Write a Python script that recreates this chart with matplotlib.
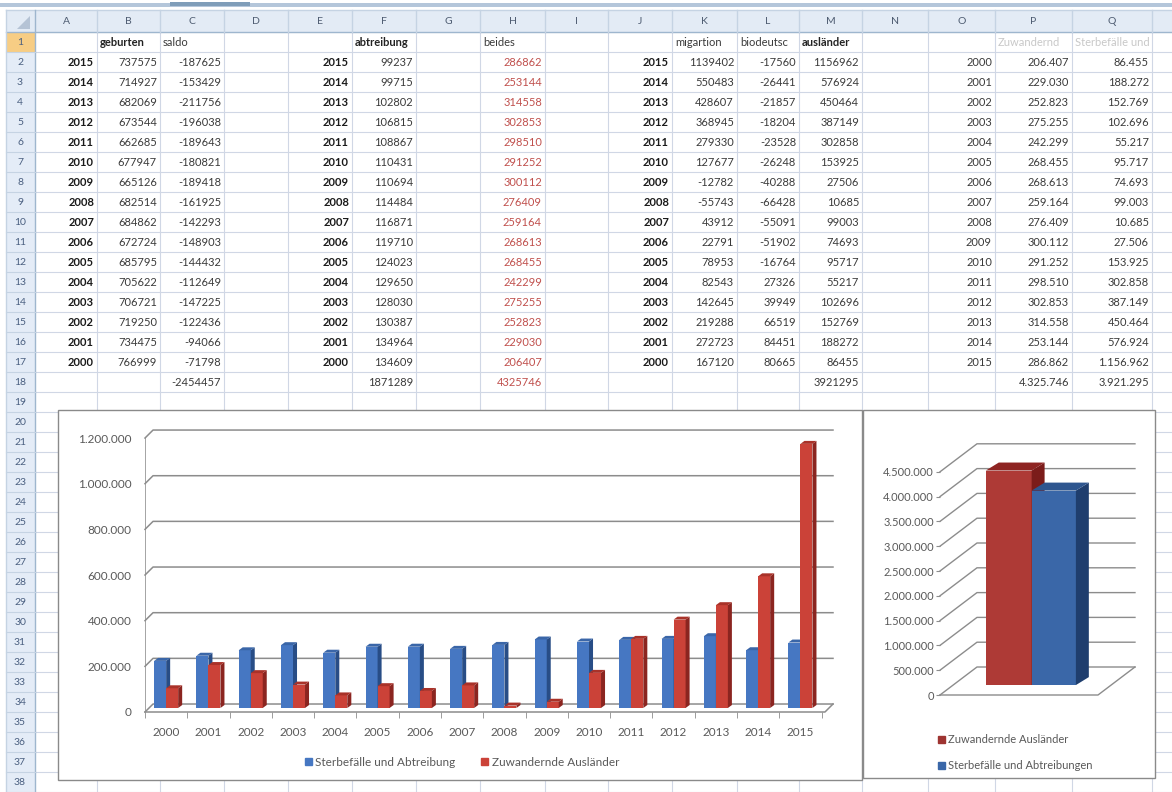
import numpy as np
import matplotlib.pyplot as plt
from matplotlib.patches import Rectangle, Polygon, Patch
from matplotlib.ticker import FuncFormatter

plt.rcParams['font.family'] = ['Lato', 'DejaVu Sans']

# ---- spreadsheet data (rows 2..17, years 2015 -> 2000) ----
years_desc = [2015, 2014, 2013, 2012, 2011, 2010, 2009, 2008,
              2007, 2006, 2005, 2004, 2003, 2002, 2001, 2000]
geburten = [737575, 714927, 682069, 673544, 662685, 677947, 665126, 682514,
            684862, 672724, 685795, 705622, 706721, 719250, 734475, 766999]
saldo = [-187625, -153429, -211756, -196038, -189643, -180821, -189418, -161925,
         -142293, -148903, -144432, -112649, -147225, -122436, -94066, -71798]
abtreibung = [99237, 99715, 102802, 106815, 108867, 110431, 110694, 114484,
              116871, 119710, 124023, 129650, 128030, 130387, 134964, 134609]
beides = [286862, 253144, 314558, 302853, 298510, 291252, 300112, 276409,
          259164, 268613, 268455, 242299, 275255, 252823, 229030, 206407]
migration = [1139402, 550483, 428607, 368945, 279330, 127677, -12782, -55743,
             43912, 22791, 78953, 82543, 142645, 219288, 272723, 167120]
biodeutsch = [-17560, -26441, -21857, -18204, -23528, -26248, -40288, -66428,
              -55091, -51902, -16764, 27326, 39949, 66519, 84451, 80665]
auslaender = [1156962, 576924, 450464, 387149, 302858, 153925, 27506, 10685,
              99003, 74693, 95717, 55217, 102696, 152769, 188272, 86455]
saldo_sum = -2454457
abtreibung_sum = 1871289
beides_sum = 4325746
auslaender_sum = 3921295

# columns O/P/Q (2000 -> 2015), used by the charts
years_asc = years_desc[::-1]
col_p = beides[::-1]
col_q = auslaender[::-1]
series_labels = ['Sterbefälle und Abtreibung', 'Zuwandernde Ausländer']
totals_labels = ['Zuwandernde Ausländer', 'Sterbefälle und Abtreibungen']
totals = [beides_sum, auslaender_sum]


def de(v):
    return f"{int(round(v)):,}".replace(',', '.')


W, H = 1172, 792
fig = plt.figure(figsize=(W / 100, H / 100), dpi=100)
sheet = fig.add_axes([0, 0, 1, 1])
sheet.set_xlim(0, W)
sheet.set_ylim(H, 0)
sheet.axis('off')

col_edges = [35, 97, 160, 224, 288, 352, 416, 480, 545, 608, 672, 737, 799,
             862, 928, 995, 1072, 1152, 1240]
col_names = list('ABCDEFGHIJKLMNOPQ') + ['']
grid_c = '#D0D7E5'
txt_c = '#3A3A3A'

# top strip and column header band
sheet.add_patch(Rectangle((0, 3), W, 4, color='#B4C6DA', lw=0))
sheet.add_patch(Rectangle((170, 2), 80, 4, color='#7F9DB9', lw=0))
sheet.add_patch(Rectangle((6, 10), W, 22, color='#E3EBF5', lw=0))
sheet.plot([6, W], [32, 32], color='#9EB6CE', lw=1)
sheet.plot([6, W], [10, 10], color='#C5D3E3', lw=1)
for k in range(len(col_edges) - 1):
    sheet.plot([col_edges[k + 1]] * 2, [10, 32], color='#C5D3E3', lw=1)
    sheet.text((col_edges[k] + col_edges[k + 1]) / 2, 21, col_names[k],
               ha='center', va='center', fontsize=7.5, color='#4D5B70')
sheet.add_patch(Polygon([(30, 16), (30, 29), (17, 29)], color='#B5C3D5', lw=0))

# row headers
sheet.add_patch(Rectangle((6, 32), 29, H - 32, color='#E4ECF7', lw=0))
sheet.add_patch(Rectangle((6, 32), 29, 20, color='#F7CD84', lw=0))
sheet.plot([35, 35], [10, H], color='#9EB6CE', lw=1)
sheet.plot([6, 6], [10, H], color='#C5D3E3', lw=1)
for r in range(1, 39):
    y = 32 + (r - 1) * 20
    sheet.plot([6, 35], [y + 20, y + 20], color='#C5D3E3', lw=0.8)
    sheet.text(20, y + 10.5, str(r), ha='center', va='center', fontsize=7.5,
               color='#4A5F80')

# grid
for r in range(0, 39):
    y = 32 + r * 20
    sheet.plot([35, W], [y, y], color=grid_c, lw=0.8, zorder=0)
for x in col_edges[1:]:
    sheet.plot([x, x], [32, H], color=grid_c, lw=0.8, zorder=0)


def cell(col, row, s, ha='right', bold=False, color=txt_c):
    x0, x1 = col_edges[col], col_edges[col + 1]
    y = 32 + (row - 1) * 20
    x = x1 - 3 if ha == 'right' else x0 + 3
    sheet.text(x, y + 10.5, s, ha=ha, va='center', fontsize=8,
               fontweight='bold' if bold else 'normal', color=color)


red_txt = '#C0504D'
# header texts as they show in the cells (long ones are cut by the next cell)
cell(1, 1, 'geburten', ha='left', bold=True, color='#222222')
cell(2, 1, 'saldo', ha='left')
cell(5, 1, 'abtreibung', ha='left', bold=True, color='#222222')
cell(7, 1, 'beides', ha='left')
cell(10, 1, 'migartion', ha='left')
cell(11, 1, 'biodeutsc', ha='left')
cell(12, 1, 'ausländer', ha='left', bold=True, color='#222222')
cell(15, 1, 'Zuwandernd', ha='left', color='#C8C8C8')
cell(16, 1, 'Sterbefälle und', ha='left', color='#C8C8C8')

for i in range(16):
    r = i + 2
    cell(0, r, str(years_desc[i]), bold=True, color='#1A1A1A')
    cell(1, r, str(geburten[i]))
    cell(2, r, str(saldo[i]))
    cell(4, r, str(years_desc[i]), bold=True, color='#1A1A1A')
    cell(5, r, str(abtreibung[i]))
    cell(7, r, str(beides[i]), color=red_txt)
    cell(9, r, str(years_desc[i]), bold=True, color='#1A1A1A')
    cell(10, r, str(migration[i]))
    cell(11, r, str(biodeutsch[i]))
    cell(12, r, str(auslaender[i]))
    cell(14, r, str(years_asc[i]))
    cell(15, r, de(col_p[i]))
    cell(16, r, de(col_q[i]))
cell(2, 18, str(saldo_sum))
cell(5, 18, str(abtreibung_sum))
cell(7, 18, str(beides_sum), color=red_txt)
cell(12, 18, str(auslaender_sum))
cell(15, 18, de(beides_sum))
cell(16, 18, de(auslaender_sum))

# chart frames
sheet.add_patch(Rectangle((58, 410), 804, 370, facecolor='white',
                          edgecolor='#8A8A8A', lw=1, zorder=5))
sheet.add_patch(Rectangle((863, 410), 292, 368, facecolor='white',
                          edgecolor='#8A8A8A', lw=1, zorder=5))


def px_rect(left, top, right, bottom):
    return [left / W, 1 - bottom / H, (right - left) / W, (bottom - top) / H]


def bars3d(ax, xs, vals, width, base, dx, dy, front, side, top, z):
    ax.bar(xs, vals, width=width, bottom=base, align='edge', color=front,
           edgecolor='none', zorder=z)
    for x, v in zip(xs, vals):
        y1 = base + v
        ax.add_patch(Polygon([(x + width, base), (x + width + dx, base + dy),
                              (x + width + dx, y1 + dy), (x + width, y1)],
                             color=side, lw=0, zorder=z))
        ax.add_patch(Polygon([(x, y1), (x + dx, y1 + dy),
                              (x + width + dx, y1 + dy), (x + width, y1)],
                             color=top, lw=0, zorder=z))


grey_txt = '#595959'
wall_c = '#8C8C8C'

# ---- main chart ----
ax = fig.add_axes(px_rect(145, 712 - 1.24 * 228.3, 833, 712))
ax.patch.set_alpha(0)
x_left, x_right = -0.5, 15.77
ddx, ddy = 0.19, 35000
ax.set_xlim(x_left, x_right)
ax.set_ylim(0, 1.24e6)
for s in ax.spines.values():
    s.set_visible(False)
yt = np.arange(0, 1200001, 200000)
for v in yt:
    ax.plot([x_left, x_left + ddx, x_right], [v, v + ddy, v + ddy],
            color=wall_c, lw=1.1, clip_on=False, zorder=1)
ax.plot([x_left, x_right - ddx, x_right], [0, 0, ddy], color=wall_c, lw=1.1,
        clip_on=False, zorder=1)
ax.plot([x_left, x_left], [0, 1.2e6], color=wall_c, lw=1.1, zorder=1)
idx = np.arange(len(years_asc))
bw = 0.284
bars3d(ax, idx - bw, col_p, bw, 17500, 0.095, 13000,
       '#4677C2', '#284D86', '#3A66A8', 3)
bars3d(ax, idx, col_q, bw, 17500, 0.095, 13000,
       '#CB4238', '#8B2520', '#A93229', 4)
ax.set_yticks(yt)
ax.yaxis.set_major_formatter(FuncFormatter(lambda v, p: de(v)))
ax.tick_params(axis='y', length=0, pad=9.5, labelsize=8.5, labelcolor=grey_txt)
ax.set_xticks(idx)
ax.set_xticklabels([str(y) for y in years_asc])
ax.set_xticks(np.arange(-0.5, 15.6, 1), minor=True)
ax.tick_params(axis='x', which='major', length=0, pad=11, labelsize=8.5,
               labelcolor=grey_txt)
ax.tick_params(axis='x', which='minor', length=4, color=wall_c, direction='out')
fig.legend(handles=[Patch(color='#4677C2'), Patch(color='#CB4238')],
           labels=series_labels, loc='center', ncol=2,
           bbox_to_anchor=(462 / W, 1 - 762 / H), frameon=False, fontsize=8.5,
           handlelength=0.6, handleheight=0.6, handletextpad=0.3,
           columnspacing=2.2, labelcolor=grey_txt)

# ---- totals chart ----
ax2 = fig.add_axes(px_rect(940, 695 - 5.08 * 49.6, 940 + 1.24 * 158, 695))
ax2.patch.set_alpha(0)
bdx, bdy = 0.234, 564500
ax2.set_xlim(0, 1.24)
ax2.set_ylim(0, 5.08e6)
for s in ax2.spines.values():
    s.set_visible(False)
yt2 = np.arange(0, 4500001, 500000)
for v in yt2:
    ax2.plot([0, bdx, 1 + bdx], [v, v + bdy, v + bdy], color=wall_c, lw=1,
             clip_on=False, zorder=1)
ax2.plot([0, 1.0, 1 + bdx], [0, 0, bdy], color=wall_c, lw=1, clip_on=False,
         zorder=1)
bars3d(ax2, [0.29], [totals[0]], 0.29, 200000, 0.082, 161000,
       '#AE3A36', '#7B1C1A', '#8E2422', 3)
bars3d(ax2, [0.58], [totals[1]], 0.28, 200000, 0.082, 161000,
       '#3A67A8', '#1F3E6E', '#2E568F', 4)
ax2.set_yticks(yt2)
ax2.yaxis.set_major_formatter(FuncFormatter(lambda v, p: de(v)))
ax2.tick_params(axis='y', length=3, color=wall_c, pad=1.5, labelsize=8,
                labelcolor=grey_txt)
ax2.set_xticks([])
fig.legend(handles=[Patch(color='#9E3431'), Patch(color='#3A67A8')],
           labels=totals_labels, loc='upper left',
           bbox_to_anchor=(928 / W, 1 - 724 / H), frameon=False, fontsize=8,
           handlelength=0.6, handleheight=0.6, handletextpad=0.3,
           labelspacing=1.35, labelcolor=grey_txt)

fig.savefig('out.png', dpi=100)
